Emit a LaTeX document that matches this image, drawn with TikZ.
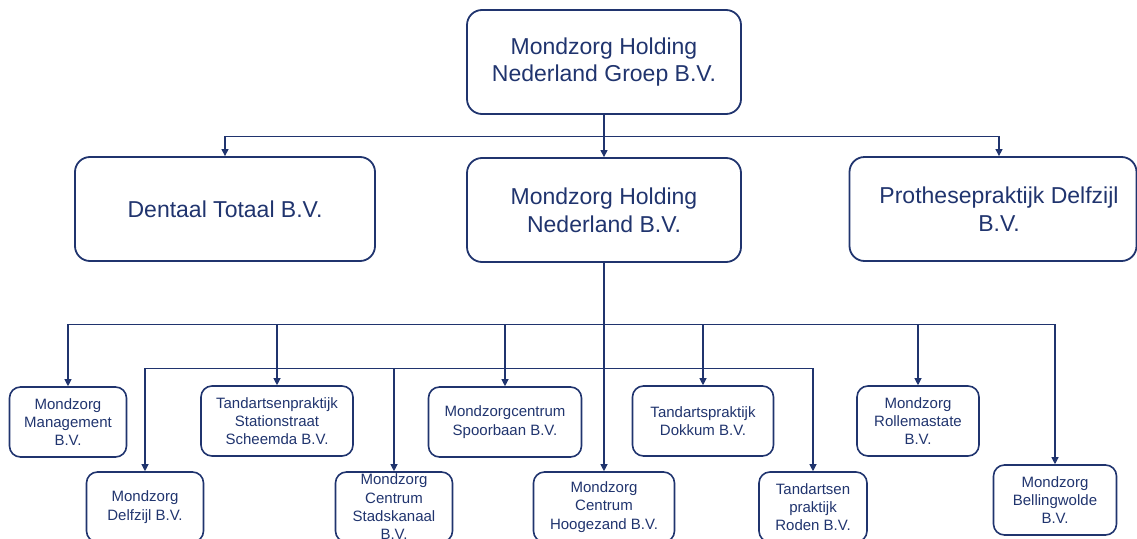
\documentclass[tikz,border=0pt]{standalone}
\usepackage{fontspec}
\setmainfont{Liberation Sans}
\usetikzlibrary{arrows.meta, positioning}
\definecolor{mzblue}{RGB}{32, 52, 110}

\begin{document}
\begin{tikzpicture}[x=1pt, y=-1pt,
  bigbox/.style={draw=mzblue, line width=1.8pt, rounded corners=15pt, text=mzblue, align=center, minimum height=104pt, inner sep=0pt, font=\fontsize{23}{27.6}\selectfont},
  smallbox/.style={draw=mzblue, line width=1.6pt, rounded corners=11pt, text=mzblue, align=center, minimum height=70pt, inner sep=0pt, font=\fontsize{15}{18.3}\selectfont},
  link/.style={-{Triangle[width=7pt, length=7pt]}, line width=1.1pt, draw=mzblue}]
  \useasboundingbox (0, 0) rectangle (1137, 538);

  % Group holding
  \node[bigbox, minimum width=274pt] (groep) at (604, 62) {Mondzorg Holding\\Nederland Groep B.V.};

  % Second level
  \node[bigbox, minimum width=300pt] (dentaal) at (225, 209) {Dentaal Totaal B.V.};
  \node[bigbox, minimum width=274pt] (holding) at (604, 210) {Mondzorg Holding\\Nederland B.V.};
  \node[bigbox, minimum width=287pt] (prothese) at (993, 209) {\hspace*{12pt}Prothesepraktijk Delfzijl\\\hspace*{12pt}B.V.};

  \draw[link] (groep.south) -- ++(0, 22) -| (dentaal.north);
  \draw[link] (groep.south) -- (holding.north);
  \draw[link] (groep.south) -- ++(0, 22) -| ([xshift=6pt]prothese.north);

  % Practices, upper row
  \node[smallbox, minimum width=117pt] (management) at (68, 422) {Mondzorg\\Management\\B.V.};
  \node[smallbox, minimum width=152pt] (stationstraat) at (277, 421) {Tandartsenpraktijk\\Stationstraat\\Scheemda B.V.};
  \node[smallbox, minimum width=153pt] (spoorbaan) at (505, 422) {Mondzorgcentrum\\Spoorbaan B.V.};
  \node[smallbox, minimum width=141pt] (dokkum) at (703, 421) {Tandartspraktijk\\Dokkum B.V.};
  \node[smallbox, minimum width=122pt] (rollemastate) at (918, 421) {Mondzorg\\Rollemastate\\B.V.};

  % Practices, lower row
  \node[smallbox, minimum width=117pt] (delfzijl) at (145, 507) {Mondzorg\\Delfzijl B.V.};
  \node[smallbox, minimum width=117pt] (stadskanaal) at (394, 507) {Mondzorg\\Centrum\\Stadskanaal\\B.V.};
  \node[smallbox, minimum width=141pt] (hoogezand) at (604, 507) {Mondzorg\\Centrum\\Hoogezand B.V.};
  \node[smallbox, minimum width=108pt] (roden) at (813, 507) {Tandartsen\\praktijk\\Roden B.V.};
  \node[smallbox, minimum width=123pt] (bellingwolde) at (1055, 500) {Mondzorg\\Bellingwolde\\B.V.};

  % Upper bus
  \draw[link] (holding.south) -- ++(0, 62) -| (management.north);
  \draw[link] (holding.south) -- ++(0, 62) -| (stationstraat.north);
  \draw[link] (holding.south) -- ++(0, 62) -| (spoorbaan.north);
  \draw[link] (holding.south) -- ++(0, 62) -| (dokkum.north);
  \draw[link] (holding.south) -- ++(0, 62) -| (rollemastate.north);
  \draw[link] (holding.south) -- ++(0, 62) -| (bellingwolde.north);

  % Lower bus
  \draw[link] (holding.south) -- ++(0, 106) -| (delfzijl.north);
  \draw[link] (holding.south) -- ++(0, 106) -| (stadskanaal.north);
  \draw[link] (holding.south) -- (hoogezand.north);
  \draw[link] (holding.south) -- ++(0, 106) -| (roden.north);
\end{tikzpicture}
\end{document}
